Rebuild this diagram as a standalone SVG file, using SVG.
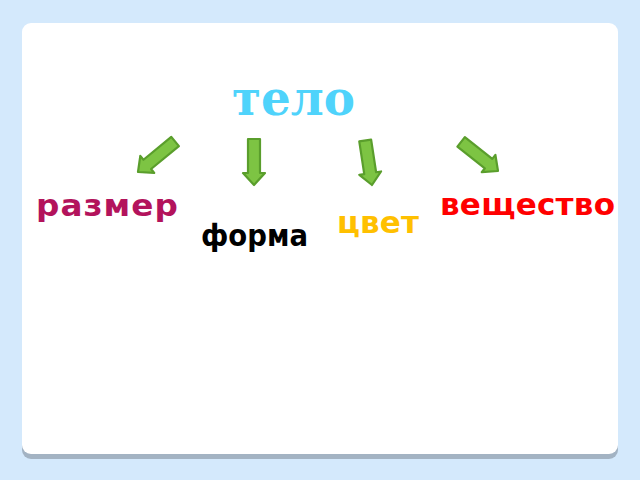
<svg xmlns="http://www.w3.org/2000/svg" width="640" height="480" viewBox="0 0 640 480">
<style>
.arrow{fill:#7dc443;stroke:#5a9e2c;stroke-width:2.2;stroke-linejoin:round}
.lbl{font-family:"DejaVu Sans",sans-serif;font-weight:bold;font-size:31px}
</style>
<rect x="0" y="0" width="640" height="480" fill="#d4e9fc"/>
<rect x="22" y="28" width="596" height="431" rx="9" fill="#a3b3c3"/>
<rect x="22" y="23" width="596" height="431" rx="9" fill="#ffffff"/>
<g id="title"><text x="232" y="115" font-family="DejaVu Serif" font-weight="bold" font-size="49" fill="#4fd3fb" textLength="123" lengthAdjust="spacingAndGlyphs">тело</text></g>
<g id="connectors">
<polygon class="arrow" transform="translate(138,172) rotate(140.6)" points="-48,-6 -12,-6 -12,-11 0,0 -12,11 -12,6 -48,6"/>
<polygon class="arrow" transform="translate(254,185) rotate(90)" points="-46,-6 -12,-6 -12,-11 0,0 -12,11 -12,6 -46,6"/>
<polygon class="arrow" transform="translate(372,185) rotate(81.3)" points="-45,-6 -12,-6 -12,-11 0,0 -12,11 -12,6 -45,6"/>
<polygon class="arrow" transform="translate(498,171) rotate(38.3)" points="-47,-6 -12,-6 -12,-11 0,0 -12,11 -12,6 -47,6"/>
</g>
<g id="razmer"><text class="lbl" x="36" y="216" fill="#b3135c" letter-spacing="1" textLength="143" lengthAdjust="spacingAndGlyphs">размер</text></g>
<g id="forma"><text class="lbl" x="201" y="246" fill="#000000" textLength="107" lengthAdjust="spacingAndGlyphs">форма</text></g>
<g id="cvet"><text class="lbl" x="337" y="233" fill="#ffc000" textLength="82" lengthAdjust="spacing">цвет</text></g>
<g id="veshchestvo"><text class="lbl" x="440" y="215" fill="#ff0000" textLength="175" lengthAdjust="spacing">вещество</text></g>
</svg>
